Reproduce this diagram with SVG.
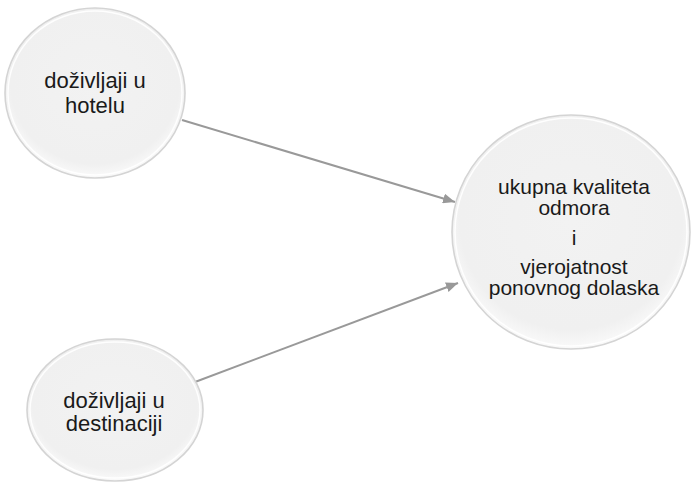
<svg xmlns="http://www.w3.org/2000/svg" width="691" height="486" viewBox="0 0 691 486">
<defs>
<radialGradient id="fillG" cx="50%" cy="45%" r="55%">
<stop offset="0" stop-color="#f2f2f2"/>
<stop offset="0.85" stop-color="#f0f0f0"/>
<stop offset="1" stop-color="#fafafa"/>
</radialGradient>
<marker id="arr" viewBox="0 0 12 10" refX="12" refY="5" markerWidth="12" markerHeight="10" markerUnits="userSpaceOnUse" orient="auto">
<path d="M0,0 L12,5 L0,10 Z" fill="#999999"/>
</marker>
</defs>
<style>
.node{fill:url(#fillG);stroke:#d4d4d4;stroke-width:1.6}
.inner{fill:none;stroke:#ffffff;stroke-width:1.5;opacity:0.9}
.lbl{font-family:"Liberation Sans",Arial,sans-serif;fill:#1a1a1a;text-anchor:middle}
.conn{stroke:#999999;stroke-width:2;fill:none}
</style>
<rect width="691" height="486" fill="#ffffff"/>
<g id="connectors">
<line class="conn" x1="182" y1="120" x2="455" y2="202" marker-end="url(#arr)"/>
<line class="conn" x1="195" y1="382" x2="458" y2="283" marker-end="url(#arr)"/>
</g>
<g id="node-hotel">
<ellipse class="node" cx="95" cy="93" rx="90" ry="85"/>
<ellipse class="inner" cx="95" cy="93" rx="87" ry="82"/>
<text class="lbl" font-size="22" x="95" y="88">doživljaji u</text>
<text class="lbl" font-size="22" x="95" y="113">hotelu</text>
</g>
<g id="node-destinacija">
<ellipse class="node" cx="115" cy="410" rx="88" ry="71"/>
<ellipse class="inner" cx="115" cy="410" rx="85" ry="68"/>
<text class="lbl" font-size="22" x="114" y="408">doživljaji u</text>
<text class="lbl" font-size="22" x="114" y="431">destinaciji</text>
</g>
<g id="node-kvaliteta">
<ellipse class="node" cx="571" cy="232" rx="119" ry="117"/>
<ellipse class="inner" cx="571" cy="232" rx="116" ry="114"/>
<text class="lbl" font-size="21" x="574" y="194">ukupna kvaliteta</text>
<text class="lbl" font-size="21" x="574" y="215">odmora</text>
<text class="lbl" font-size="21" x="574" y="245">i</text>
<text class="lbl" font-size="21" x="574" y="274">vjerojatnost</text>
<text class="lbl" font-size="21" x="574" y="295">ponovnog dolaska</text>
</g>
</svg>
